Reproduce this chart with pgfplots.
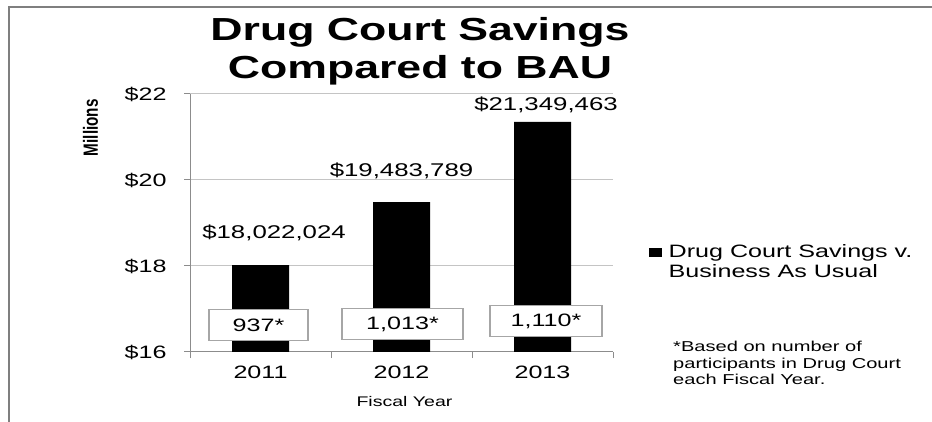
\documentclass[border=0pt]{standalone}
\usepackage{fontspec}
\setmainfont[FakeStretch=1.4]{Liberation Sans}
\newfontfamily\plainfont{Liberation Sans}
\usepackage{pgfplots}
\pgfplotsset{compat=1.18}
\definecolor{axgray}{HTML}{8C8C8C}
\definecolor{gridgray}{HTML}{C4C4C4}
\definecolor{framegray}{HTML}{7F7F7F}
\definecolor{boxgray}{HTML}{A6A6A6}
\newcommand\lab{\fontsize{18}{20}\selectfont}
\newcommand\dlab{\fontsize{18.5}{20}\selectfont}
\begin{document}
\begin{tikzpicture}
\useasboundingbox (0,0) rectangle (932bp,422bp);
\draw[framegray, line width=2bp] (9bp,0) -- (9bp,415bp) -- (932bp,415bp);
\begin{axis}[
  at={(190bp,70bp)}, anchor=south west,
  scale only axis, width=423bp, height=258bp,
  xmin=0.5, xmax=3.5, ymin=16, ymax=22,
  axis x line*=bottom, axis y line*=left,
  axis line style={-, draw=axgray, line width=1bp},
  tick align=outside, major tick length=6bp,
  tick style={draw=axgray, line width=1bp},
  xtick={0.5,1.5,2.5,3.5}, x tick label as interval,
  xticklabels={2011,2012,2013},
  ytick={16,18,20,22}, yticklabels={\$16,\$18,\$20,\$22},
  ymajorgrids, grid style={draw=gridgray, line width=1bp},
  ticklabel style={font=\lab, text=black},
  yticklabel style={xshift=-14bp},
  xticklabel style={yshift=-4bp},
  xlabel={Fiscal Year},
  xlabel style={font=\fontsize{14}{16}\selectfont, at={(axis description cs:0.507,-0.19)}, anchor=center},
  ylabel={Millions},
  ylabel style={font=\plainfont\bfseries\fontsize{15.3}{17}\selectfont, at={(axis description cs:-0.235,0.869)}, anchor=center, yscale=1.35},
  clip mode=individual,
  legend style={at={(axis description cs:1.084,0.424)}, anchor=north west, draw=none, fill=none, inner sep=0pt, font=\lab, cells={anchor=west}},
  legend image code/.code={\fill[black] (0bp,-5bp) rectangle (13bp,4bp); \path (18bp,0bp);},
]
\addplot[ybar, bar shift=0pt, bar width=57bp, fill=black, draw=none]
  coordinates {(1,18.022024) (2,19.483789) (3,21.349463)};
\addlegendentry{\vtop{\hbox{Drug Court Savings v.}\hbox{Business As Usual}}}
\node[font=\dlab] at (axis cs:1.096,18.76) {\$18,022,024};
\node[font=\dlab] at (axis cs:2.0,20.21) {\$19,483,789};
\node[font=\dlab] at (axis cs:3.025,21.74) {\$21,349,463};
\node[draw=boxgray, fill=white, line width=1.2bp, minimum width=99bp, minimum height=31bp, inner sep=0pt, font=\lab] at (axis cs:0.986,16.62) {937*};
\node[draw=boxgray, fill=white, line width=1.2bp, minimum width=121bp, minimum height=31bp, inner sep=0pt, font=\lab] at (axis cs:2.007,16.65) {1,013*};
\node[draw=boxgray, fill=white, line width=1.2bp, minimum width=112bp, minimum height=31bp, inner sep=0pt, font=\lab] at (axis cs:3.025,16.72) {1,110*};
\end{axis}
\node[align=center, font=\fontsize{32}{38}\selectfont\bfseries] at (420bp,371bp) {Drug Court Savings\\Compared to BAU};
\node[anchor=north west, inner sep=0pt, align=left, font=\fontsize{14.4}{16.5}\selectfont] at (673bp,81bp) {*Based on number of\\participants in Drug Court\\each Fiscal Year.};
\end{tikzpicture}
\end{document}
